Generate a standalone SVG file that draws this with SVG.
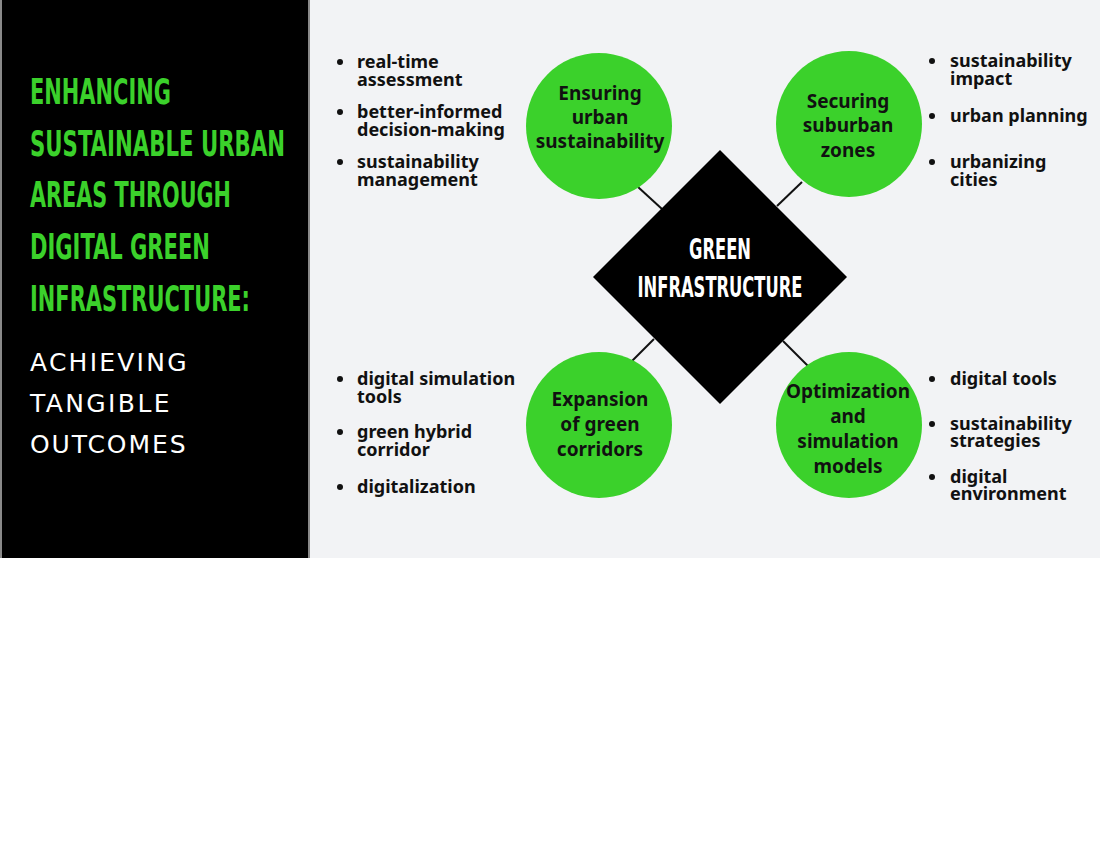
<svg xmlns="http://www.w3.org/2000/svg" width="1100" height="848" viewBox="0 0 1100 848">
<style>
.title{font-family:"Liberation Sans Narrow","DejaVu Sans Condensed","Liberation Sans",sans-serif;font-weight:700;font-size:36px;fill:#3bd12b}
.sub{font-family:"DejaVu Sans","Liberation Sans",sans-serif;font-size:25px;fill:#ffffff;letter-spacing:1.5px}
.item{font-family:"Noto Sans","Open Sans",sans-serif;font-weight:700;font-size:18px;fill:#111111}
.ctext{font-family:"Noto Sans","Open Sans",sans-serif;font-weight:700;font-size:19px;fill:#111111;text-anchor:middle}
.core{font-family:"Liberation Sans Narrow","DejaVu Sans Condensed","Liberation Sans",sans-serif;font-weight:700;font-size:28px;fill:#ffffff;text-anchor:middle}
.circ{fill:#3bd12b}
.dot{fill:#111111}
.link{stroke:#111111;stroke-width:2;fill:none}
</style>
<rect x="0" y="0" width="1100" height="848" fill="#ffffff"/>
<rect x="308" y="0" width="792" height="558" fill="#f2f3f5"/>
<rect x="0" y="0" width="310" height="558" fill="#8a8a8a"/>
<rect x="2" y="0" width="306" height="558" fill="#000000"/>

<g id="title">
<text class="title" x="30" y="104" textLength="141" lengthAdjust="spacingAndGlyphs">ENHANCING</text>
<text class="title" x="30" y="156" textLength="255" lengthAdjust="spacingAndGlyphs">SUSTAINABLE URBAN</text>
<text class="title" x="30" y="207" textLength="201" lengthAdjust="spacingAndGlyphs">AREAS THROUGH</text>
<text class="title" x="30" y="259" textLength="180" lengthAdjust="spacingAndGlyphs">DIGITAL GREEN</text>
<text class="title" x="30" y="311" textLength="220" lengthAdjust="spacingAndGlyphs">INFRASTRUCTURE:</text>
<text class="sub" x="30" y="371" textLength="158">ACHIEVING</text>
<text class="sub" x="30" y="412" textLength="141">TANGIBLE</text>
<text class="sub" x="30" y="453" textLength="157">OUTCOMES</text>
</g>

<g id="connectors">
<line class="link" x1="638" y1="187" x2="662" y2="209"/>
<line class="link" x1="802" y1="182" x2="777" y2="206"/>
<line class="link" x1="654" y1="339" x2="632" y2="361"/>
<line class="link" x1="783" y1="341" x2="808" y2="366"/>
</g>

<g id="core">
<polygon points="720,150 847,277 720,404 593,277" fill="#000000"/>
<text class="core" x="720" y="259" textLength="62" lengthAdjust="spacingAndGlyphs">GREEN</text>
<text class="core" x="720" y="297" textLength="165" lengthAdjust="spacingAndGlyphs">INFRASTRUCTURE</text>
</g>

<g id="node-ensuring">
<circle class="circ" cx="599" cy="126" r="73"/>
<text class="ctext" x="600" y="100">Ensuring</text>
<text class="ctext" x="600" y="124">urban</text>
<text class="ctext" x="600" y="148">sustainability</text>
</g>

<g id="node-securing">
<circle class="circ" cx="849" cy="124" r="73"/>
<text class="ctext" x="848" y="108">Securing</text>
<text class="ctext" x="848" y="132">suburban</text>
<text class="ctext" x="848" y="157">zones</text>
</g>

<g id="node-expansion">
<circle class="circ" cx="599" cy="425" r="73"/>
<text class="ctext" x="600" y="406">Expansion</text>
<text class="ctext" x="600" y="431">of green</text>
<text class="ctext" x="600" y="456">corridors</text>
</g>

<g id="node-optimization">
<circle class="circ" cx="849" cy="425" r="73"/>
<text class="ctext" x="848" y="398">Optimization</text>
<text class="ctext" x="848" y="423">and</text>
<text class="ctext" x="848" y="448">simulation</text>
<text class="ctext" x="848" y="473">models</text>
</g>

<g id="list-ensuring">
<circle class="dot" cx="340" cy="62" r="3"/>
<text class="item" x="357" y="68">real-time</text>
<text class="item" x="357" y="86">assessment</text>
<circle class="dot" cx="340" cy="112" r="3"/>
<text class="item" x="357" y="118">better-informed</text>
<text class="item" x="357" y="136">decision-making</text>
<circle class="dot" cx="340" cy="162" r="3"/>
<text class="item" x="357" y="168">sustainability</text>
<text class="item" x="357" y="186">management</text>
</g>

<g id="list-securing">
<circle class="dot" cx="932" cy="61" r="3"/>
<text class="item" x="950" y="67">sustainability</text>
<text class="item" x="950" y="85">impact</text>
<circle class="dot" cx="932" cy="116" r="3"/>
<text class="item" x="950" y="122">urban planning</text>
<circle class="dot" cx="932" cy="162" r="3"/>
<text class="item" x="950" y="168">urbanizing</text>
<text class="item" x="950" y="186">cities</text>
</g>

<g id="list-expansion">
<circle class="dot" cx="340" cy="379" r="3"/>
<text class="item" x="357" y="385">digital simulation</text>
<text class="item" x="357" y="403">tools</text>
<circle class="dot" cx="340" cy="432" r="3"/>
<text class="item" x="357" y="438">green hybrid</text>
<text class="item" x="357" y="456">corridor</text>
<circle class="dot" cx="340" cy="487" r="3"/>
<text class="item" x="357" y="493">digitalization</text>
</g>

<g id="list-optimization">
<circle class="dot" cx="932" cy="379" r="3"/>
<text class="item" x="950" y="385">digital tools</text>
<circle class="dot" cx="932" cy="424" r="3"/>
<text class="item" x="950" y="430">sustainability</text>
<text class="item" x="950" y="447">strategies</text>
<circle class="dot" cx="932" cy="477" r="3"/>
<text class="item" x="950" y="483">digital</text>
<text class="item" x="950" y="500">environment</text>
</g>
</svg>
